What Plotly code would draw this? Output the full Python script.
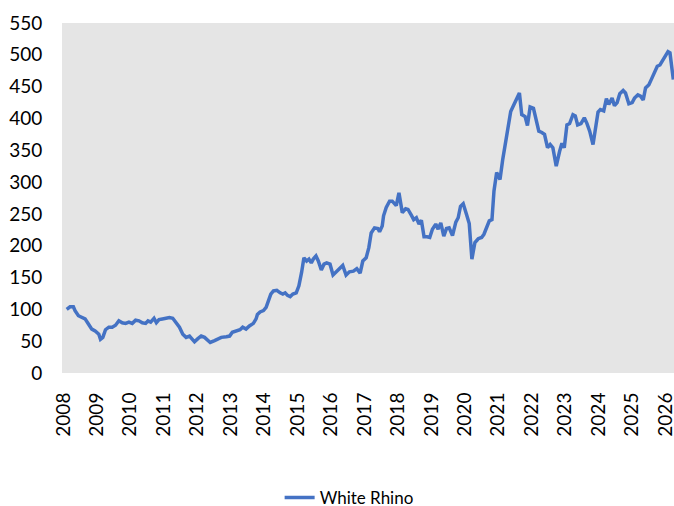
import plotly.graph_objects as go

# Decimal-year positions and index values
years = [
    2008.10, 2008.20, 2008.30, 2008.35, 2008.45, 2008.55, 2008.65, 2008.75, 2008.85, 2008.95,
    2009.06, 2009.11, 2009.18, 2009.26, 2009.36, 2009.46, 2009.56, 2009.66, 2009.76, 2009.86, 2009.96,
    2010.06, 2010.16, 2010.26, 2010.36, 2010.46, 2010.53, 2010.61, 2010.71, 2010.78, 2010.86, 2010.96,
    2011.07, 2011.17, 2011.27, 2011.37, 2011.47, 2011.57, 2011.67, 2011.77, 2011.85, 2011.92,
    2012.02, 2012.12, 2012.22, 2012.32, 2012.39, 2012.52, 2012.62, 2012.72, 2012.87, 2012.97,
    2013.05, 2013.18, 2013.28, 2013.36, 2013.46, 2013.56, 2013.68, 2013.76, 2013.80, 2013.88, 2013.98,
    2014.06, 2014.13, 2014.20, 2014.28, 2014.38, 2014.48, 2014.56, 2014.63, 2014.70, 2014.78, 2014.86, 2014.96,
    2015.04, 2015.12, 2015.19, 2015.27, 2015.34, 2015.41, 2015.47, 2015.55, 2015.62, 2015.71, 2015.79, 2015.87, 2015.97,
    2016.06, 2016.20, 2016.35, 2016.45, 2016.55, 2016.67, 2016.77, 2016.87, 2016.95,
    2017.05, 2017.13, 2017.20, 2017.30, 2017.40, 2017.45, 2017.53, 2017.57, 2017.65, 2017.75, 2017.83, 2017.90, 2017.95,
    2018.03, 2018.13, 2018.23, 2018.30, 2018.40, 2018.47, 2018.55, 2018.63, 2018.70, 2018.78, 2018.87, 2018.95,
    2019.03, 2019.13, 2019.20, 2019.28, 2019.37, 2019.45, 2019.53, 2019.63, 2019.73, 2019.80, 2019.87, 2019.95,
    2020.05, 2020.13, 2020.21, 2020.30, 2020.40, 2020.50, 2020.57, 2020.65, 2020.73, 2020.81, 2020.87, 2020.95,
    2021.05, 2021.13, 2021.22, 2021.30, 2021.37, 2021.45, 2021.55, 2021.63, 2021.70, 2021.80, 2021.87, 2021.95,
    2022.05, 2022.13, 2022.21, 2022.30, 2022.38, 2022.47, 2022.55, 2022.63, 2022.73, 2022.83, 2022.90, 2022.97,
    2023.05, 2023.13, 2023.23, 2023.30, 2023.37, 2023.47, 2023.57, 2023.65, 2023.73, 2023.83, 2023.90, 2023.98,
    2024.05, 2024.15, 2024.23, 2024.30, 2024.40, 2024.47, 2024.55, 2024.63, 2024.73, 2024.80, 2024.90,
    2025.00, 2025.07, 2025.17, 2025.25, 2025.33, 2025.40, 2025.50, 2025.57, 2025.67, 2025.75, 2025.83, 2025.92,
    2026.00, 2026.07, 2026.13, 2026.17, 2026.23,
]
white_rhino = [
    100, 104, 104, 98, 90, 87, 85, 77, 69, 66,
    61, 53, 56, 68, 72, 72, 75, 82, 79, 78, 80,
    78, 83, 82, 79, 78, 82, 80, 86, 79, 84, 85,
    86, 87, 86, 79, 72, 61, 56, 58, 53, 49,
    54, 58, 56, 52, 48, 51, 53, 56, 57, 58,
    64, 66, 68, 72, 69, 74, 78, 85, 92, 96, 98,
    103, 113, 124, 129, 130, 126, 124, 126, 122, 120, 124, 126,
    137, 158, 181, 176, 179, 173, 179, 184, 176, 162, 171, 173, 171,
    154, 162, 169, 154, 159, 160, 164, 157, 176,
    181, 197, 220, 228, 227, 222, 231, 247, 260, 270, 270, 265, 263,
    283, 252, 258, 257, 248, 241, 244, 234, 240, 214, 214, 213,
    226, 234, 226, 236, 215, 227, 228, 216, 237, 244, 262, 266,
    249, 235, 179, 205, 211, 213, 218, 228, 239, 241, 286, 315,
    304, 335, 364, 385, 411, 420, 431, 440, 406, 403, 389, 418,
    416, 398, 380, 378, 375, 354, 359, 354, 325, 348, 361, 354,
    390, 392, 406, 404, 390, 392, 401, 392, 380, 359, 382, 410,
    414, 412, 431, 422, 432, 420, 425, 439, 444, 440, 423,
    425, 432, 437, 435, 429, 448, 453, 461, 474, 482, 484, 492,
    500, 505, 503, 482, 461,
]
year_ticks = list(range(2008, 2027))
year_labels = [str(y) for y in year_ticks]
y_ticks = list(range(0, 551, 50))

FONT = "Lato"

fig = go.Figure()
fig.add_trace(go.Scatter(
    x=years, y=white_rhino, mode="lines", name="White Rhino",
    line=dict(color="#4472C4", width=3.5),
))

fig.update_layout(
    width=674, height=506,
    margin=dict(l=62, r=0, t=23, b=133, autoexpand=False),
    paper_bgcolor="white",
    plot_bgcolor="#E5E5E5",
    font=dict(family=FONT, size=19, color="#000000"),
    showlegend=True,
    legend=dict(
        orientation="h", xref="container", yref="container",
        x=0.518, xanchor="center", y=0.016, yanchor="middle",
        font=dict(family=FONT, size=17, color="#000000"),
        bgcolor="rgba(0,0,0,0)",
    ),
)
fig.update_xaxes(
    range=[2007.96, 2026.25],
    tickmode="array", tickvals=year_ticks, ticktext=year_labels,
    tickangle=-90, showgrid=False, zeroline=False, showline=False,
    ticks="outside", ticklen=11, tickcolor="rgba(0,0,0,0)",
    ticklabeloverflow="allow",
    tickfont=dict(family=FONT, size=19, color="#000000"),
)
fig.update_yaxes(
    range=[0, 550], tickmode="array", tickvals=y_ticks,
    showgrid=False, zeroline=False, showline=False,
    ticks="outside", ticklen=15, tickcolor="rgba(0,0,0,0)",
    tickfont=dict(family=FONT, size=19, color="#000000"),
)

fig.write_html(
    "out.html",
    config={"displayModeBar": False},
    post_script="document.body.style.margin='0';document.body.style.overflow='hidden';",
)
